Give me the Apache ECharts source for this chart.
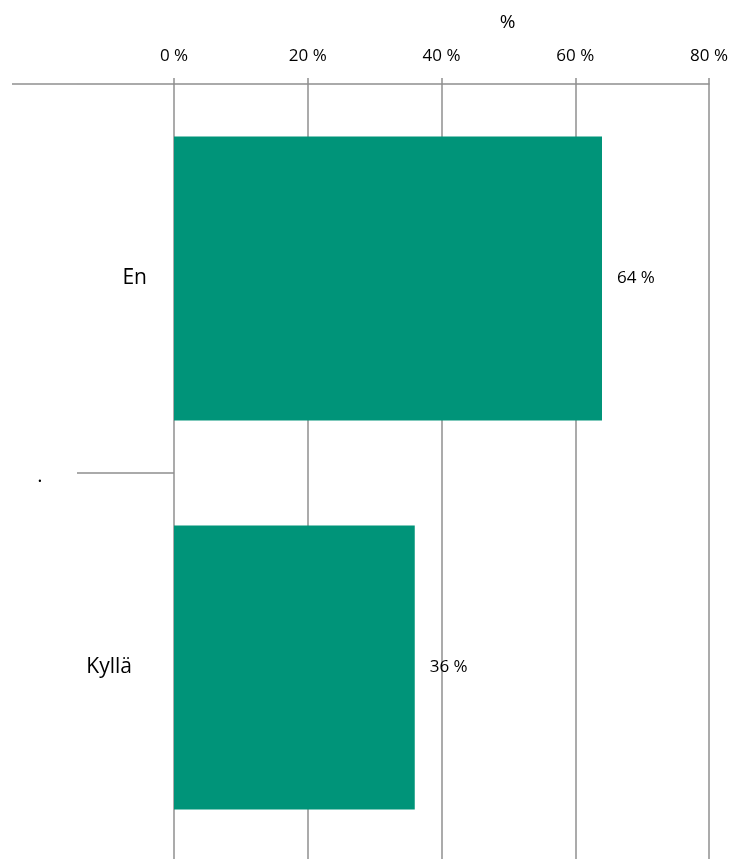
<!DOCTYPE html>
<html>
<head>
<meta charset="utf-8">
<script src="https://cdn.jsdelivr.net/npm/echarts@6/dist/echarts.min.js"></script>
<style>
  html, body { margin: 0; padding: 0; background: #fff; overflow: hidden; }
  #chart { width: 739px; height: 859px; }
</style>
</head>
<body>
<div id="chart"></div>
<script>
// Answer categories and their shares (%)
var categories = ['En', 'Kyllä'];
var shares = [64, 36];
// Value axis range (%)
var axisMin = 0;
var axisMax = 80;
var axisStep = 20;
var axisTitle = '%';
var separatorLabel = '.';

var FONT = '"Open Sans", "Noto Sans", sans-serif';
var GRID_COLOR = '#8f8f8f';
var BAR_COLOR = '#009479';
var GRID_TOP = 84;
var GRID_HEIGHT = 778;   // runs just past the bottom edge of the canvas

var chart = echarts.init(document.getElementById('chart'), null, { renderer: 'canvas' });

var option = {
  animation: false,
  backgroundColor: '#ffffff',
  grid: {
    left: 174, right: 30, top: GRID_TOP, height: GRID_HEIGHT,
    containLabel: false,
    outerBoundsMode: 'none'
  },
  xAxis: {
    type: 'value',
    position: 'top',
    min: axisMin,
    max: axisMax,
    interval: axisStep,
    name: axisTitle,
    nameLocation: 'middle',
    nameGap: 52,
    nameTextStyle: { fontFamily: FONT, fontSize: 19, color: '#000', padding: [0, 0, 0, 132] },
    axisLine: { show: true, lineStyle: { color: GRID_COLOR, width: 1.5 } },
    axisTick: { show: true, inside: false, length: 6, lineStyle: { color: GRID_COLOR, width: 1.5 } },
    axisLabel: {
      margin: 19,
      fontFamily: FONT,
      fontSize: 17,
      color: '#000',
      formatter: function (v) { return v + ' %'; }
    },
    splitLine: { show: true, lineStyle: { color: GRID_COLOR, width: 1.5 } }
  },
  yAxis: {
    type: 'category',
    inverse: true,
    data: categories,
    axisLine: { show: false },
    axisTick: { show: true, length: 97, alignWithLabel: false, lineStyle: { color: GRID_COLOR, width: 1.5 } },
    axisLabel: {
      margin: 27,
      fontFamily: FONT,
      fontSize: 21,
      color: '#000',
      formatter: function (v, i) { return i === 1 ? '{b|' + v + '}' : '{a|' + v + '}'; },
      rich: {
        a: { fontFamily: FONT, fontSize: 21, color: '#000' },
        b: { fontFamily: FONT, fontSize: 21, color: '#000', padding: [0, 15, 0, 0] }
      }
    },
    splitLine: { show: false }
  },
  series: [{
    type: 'bar',
    data: shares,
    barWidth: '73%',
    itemStyle: { color: BAR_COLOR },
    label: {
      show: true,
      position: 'right',
      distance: 15,
      fontFamily: FONT,
      fontSize: 17,
      color: '#000',
      formatter: function (p) { return p.value + ' %'; }
    }
  }]
};
chart.setOption(option);

// Extend the top rule to the left edge and mark the category separator
var sepY = GRID_TOP + GRID_HEIGHT / categories.length;
chart.setOption({
  graphic: [
    {
      type: 'line',
      shape: { x1: 12, y1: GRID_TOP, x2: 77, y2: GRID_TOP },
      style: { stroke: GRID_COLOR, lineWidth: 1.5 }
    },
    {
      type: 'text',
      x: 40, y: sepY + 3,
      style: { text: separatorLabel, font: '20px ' + FONT, fill: '#000', align: 'center', verticalAlign: 'middle' }
    }
  ]
});
</script>
</body>
</html>
